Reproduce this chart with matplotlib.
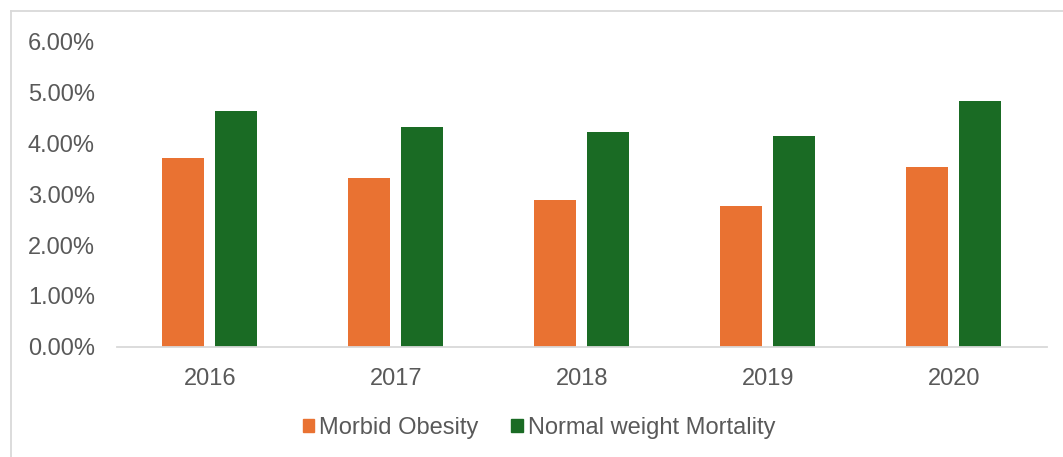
import matplotlib
matplotlib.use("Agg")
import matplotlib.pyplot as plt
import numpy as np
from matplotlib.patches import Patch
from matplotlib.lines import Line2D
from matplotlib.ticker import FuncFormatter

years = ["2016", "2017", "2018", "2019", "2020"]
morbid_obesity = [3.71, 3.31, 2.89, 2.77, 3.54]
normal_weight = [4.64, 4.33, 4.22, 4.14, 4.83]
series_names = ["Morbid Obesity", "Normal weight Mortality"]
colors = ["#E97232", "#1A6B24"]

plt.rcParams['font.family'] = ['Liberation Sans', 'DejaVu Sans']
text_color = "#595959"
fs = 17

W, H = 1063, 457
fig = plt.figure(figsize=(W / 100, H / 100), dpi=100)
ax = fig.add_axes([117 / W, (H - 346.7) / H, (1046.7 - 117) / W, 305 / H])

x = np.arange(len(years))
bw = 0.226
off = 0.1425
ax.bar(x - off, morbid_obesity, bw, color=colors[0], label=series_names[0])
ax.bar(x + off, normal_weight, bw, color=colors[1], label=series_names[1])

ax.set_xlim(-0.5, len(years) - 0.5)
ax.set_ylim(0, 6)
ax.set_yticks(np.arange(0, 7, 1))
ax.yaxis.set_major_formatter(FuncFormatter(lambda v, p: f"{v:.2f}%"))
ax.set_xticks(x)
ax.set_xticklabels(years)
ax.tick_params(axis='y', length=0, pad=16, labelsize=fs, labelcolor=text_color)
ax.tick_params(axis='x', length=0, pad=15, labelsize=fs, labelcolor=text_color)

for s in ["top", "right", "left"]:
    ax.spines[s].set_visible(False)
ax.spines["bottom"].set_color("#D9D9D9")
ax.spines["bottom"].set_linewidth(1.3)

handles = [Patch(color=colors[0]), Patch(color=colors[1])]
fig.legend(handles, series_names, loc="center", bbox_to_anchor=(539 / W, 1 - 428 / H),
           ncol=2, frameon=False, fontsize=fs, labelcolor=text_color,
           handlelength=0.5, handleheight=0.5, handletextpad=0.2, columnspacing=1.4)

# chart border (top and left visible)
fig.add_artist(Line2D([11 / W, 11 / W], [0, 1 - 11 / H], transform=fig.transFigure,
                      color="#D9D9D9", linewidth=1.3))
fig.add_artist(Line2D([11 / W, 1], [1 - 11 / H, 1 - 11 / H], transform=fig.transFigure,
                      color="#D9D9D9", linewidth=1.3))

fig.savefig("out.png", dpi=100)
